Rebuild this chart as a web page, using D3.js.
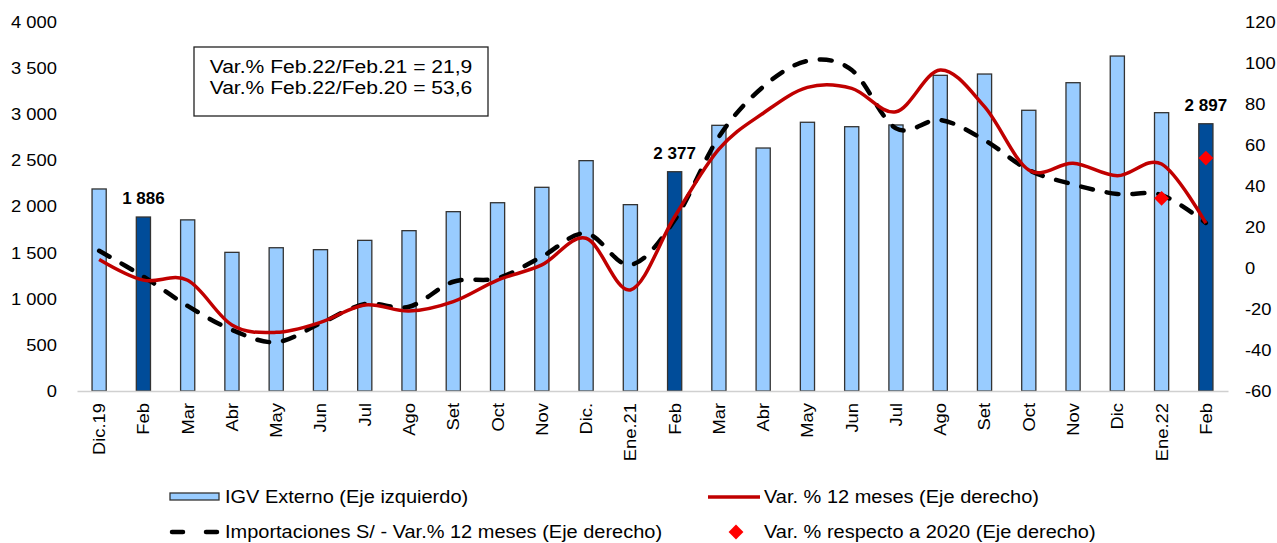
<!DOCTYPE html>
<html>
<head>
<meta charset="utf-8">
<script src="https://cdn.jsdelivr.net/npm/d3@7"></script>
<style>
  body { margin: 0; background: #fff; }
  svg { font-family: "Liberation Sans", Arial, sans-serif; }
</style>
</head>
<body>
<div id="chart"></div>
<script>
const categories = ['Dic.19', 'Feb', 'Mar', 'Abr', 'May', 'Jun', 'Jul', 'Ago', 'Set', 'Oct', 'Nov', 'Dic.',
  'Ene.21', 'Feb', 'Mar', 'Abr', 'May', 'Jun', 'Jul', 'Ago', 'Set', 'Oct', 'Nov', 'Dic', 'Ene.22', 'Feb']
// IGV externo, millones S/ (eje izquierdo)
const igv = [2190, 1886, 1855, 1503, 1553, 1532, 1633, 1738, 1944, 2041, 2208, 2497,
  2020, 2377, 2880, 2634, 2913, 2865, 2884, 3422, 3436, 3043, 3342, 3631, 3017, 2897]
// Var. % 12 meses (eje derecho)
const var12 = [4.2, -5.9, -6, -27.8, -31.4, -26.5, -18, -21, -16.4, -5.9, 1.5, 14.5,
  -10.7, 25, 58, 75.5, 88.1, 87.6, 76.2, 96.6, 78.7, 47.8, 51.1, 45, 50.7, 21.9]
// Importaciones S/ - Var.% 12 meses (eje derecho)
const imports = [8.4, -4.2, -18.5, -30.2, -36.2, -27, -17.6, -18.9, -6.7, -5, 5.5, 16.9,
  1.5, 23.4, 64, 88.4, 101, 96.6, 68.1, 72.2, 62.4, 47.8, 40.8, 36.1, 35.6, 22]
// Var. % respecto a 2020 (eje derecho)
const var2020 = [null, null, null, null, null, null, null, null, null, null, null, null,
  null, null, null, null, null, null, null, null, null, null, null, null, 34, 53.6]
const highlighted = [1, 13, 25]
const leftTicks = [0, 500, 1000, 1500, 2000, 2500, 3000, 3500, 4000]
const rightTicks = [-60, -40, -20, 0, 20, 40, 60, 80, 100, 120]
const boxLines = ['Var.% Feb.22/Feb.21 = 21,9', 'Var.% Feb.22/Feb.20 = 53,6']

const W = 1277, H = 543
const STRETCH = 1.08
const LIGHT = '#99CCFF', DARK = '#004C99', RED = '#C00000'

const locale = d3.formatLocale({ decimal: ',', thousands: ' ', grouping: [3], currency: ['', ''], minus: '-' })
const fmt = locale.format(',')

const svg = d3.select('#chart').append('svg')
  .attr('width', W).attr('height', H)

const idx = d3.range(categories.length)
const x = d3.scaleBand().domain(idx).range([77, 1228]).paddingInner(0.68).paddingOuter(0.34)
const yL = d3.scaleLinear().domain([0, 4000]).range([391, 22])
const yR = d3.scaleLinear().domain([-60, 120]).range([391, 22])
const cx = i => x(i) + x.bandwidth() / 2

// left axis
const gL = svg.append('g').attr('transform', 'translate(57,0)')
  .call(d3.axisLeft(yL).tickValues(leftTicks).tickSize(0).tickPadding(0).tickFormat(fmt))
gL.select('.domain').remove()
gL.selectAll('text').attr('x', 0).attr('font-size', 17).attr('fill', '#000')
  .attr('font-family', null).attr('transform', `scale(${STRETCH},1)`)

// right axis
const gR = svg.append('g').attr('transform', 'translate(1245,0)')
  .call(d3.axisRight(yR).tickValues(rightTicks).tickSize(0).tickPadding(0).tickFormat(fmt))
gR.select('.domain').remove()
gR.selectAll('text').attr('x', 0).attr('font-size', 17).attr('fill', '#000')
  .attr('font-family', null).attr('transform', `scale(${STRETCH},1)`)

// bars
svg.append('g').selectAll('rect').data(igv).join('rect')
  .attr('x', (d, i) => x(i))
  .attr('y', d => yL(d))
  .attr('width', x.bandwidth())
  .attr('height', d => yL(0) - yL(d))
  .attr('fill', (d, i) => highlighted.includes(i) ? DARK : LIGHT)
  .attr('stroke', '#333')
  .attr('stroke-width', 1.3)

// x axis
const gX = svg.append('g').attr('transform', 'translate(0,391)')
  .call(d3.axisBottom(x).tickSize(0).tickFormat(i => categories[i]))
gX.select('.domain').attr('stroke', '#d0d0d0').attr('stroke-width', 1.5)
gX.selectAll('text')
  .attr('x', 0).attr('y', 0).attr('dy', '0.35em')
  .attr('text-anchor', 'end').attr('font-size', 17).attr('fill', '#000').attr('font-family', null)
  .attr('transform', `translate(0,12) rotate(-90) scale(${STRETCH},1)`)

// lines
const smooth = d3.curveCatmullRom.alpha(0)
svg.append('path')
  .attr('d', d3.line().x((d, i) => cx(i)).y(d => yR(d)).curve(smooth)(imports))
  .attr('fill', 'none').attr('stroke', '#000').attr('stroke-width', 4.5)
  .attr('stroke-dasharray', '12,14').attr('stroke-linecap', 'round')
svg.append('path')
  .attr('d', d3.line().x((d, i) => cx(i)).y(d => yR(d)).curve(smooth)(var12))
  .attr('fill', 'none').attr('stroke', RED).attr('stroke-width', 3.5)

// diamonds
const diamond = d3.symbol().type(d3.symbolSquare).size(110)
svg.append('g').selectAll('path')
  .data(var2020.map((v, i) => ({ v, i })).filter(d => d.v !== null))
  .join('path')
  .attr('d', diamond)
  .attr('transform', d => `translate(${cx(d.i)},${yR(d.v)}) rotate(45)`)
  .attr('fill', '#FF0000')

// value labels
svg.append('g').selectAll('text').data(highlighted).join('text')
  .attr('x', i => cx(i))
  .attr('y', i => yL(igv[i]) - 13)
  .attr('text-anchor', 'middle')
  .attr('font-size', 17).attr('font-weight', 'bold')
  .text(i => fmt(igv[i]))

// annotation box
svg.append('rect')
  .attr('x', 194).attr('y', 47).attr('width', 294).attr('height', 69)
  .attr('fill', '#fff').attr('stroke', '#222').attr('stroke-width', 1.3)
boxLines.forEach((t, k) => {
  svg.append('text')
    .attr('transform', `translate(341,${73 + k * 21}) scale(1.11,1)`)
    .attr('text-anchor', 'middle').attr('font-size', 19)
    .text(t)
})

// legend
const lg = svg.append('g').attr('font-size', 18.5)
function legendText (tx, ty, t) {
  lg.append('text').attr('transform', `translate(${tx},${ty}) scale(${STRETCH},1)`)
    .attr('dy', '0.35em').text(t)
}
lg.append('rect').attr('x', 170).attr('y', 493).attr('width', 49).attr('height', 7)
  .attr('fill', LIGHT).attr('stroke', '#333').attr('stroke-width', 1.3)
legendText(225, 497, 'IGV Externo (Eje izquierdo)')
lg.append('line').attr('x1', 708).attr('x2', 760).attr('y1', 497).attr('y2', 497)
  .attr('stroke', RED).attr('stroke-width', 3.5)
legendText(764, 497, 'Var. % 12 meses (Eje derecho)')
lg.append('line').attr('x1', 172).attr('x2', 217).attr('y1', 532).attr('y2', 532)
  .attr('stroke', '#000').attr('stroke-width', 4.5)
  .attr('stroke-dasharray', '11,23').attr('stroke-linecap', 'round')
legendText(225, 532, 'Importaciones S/ - Var.% 12 meses (Eje derecho)')
lg.append('path').attr('d', diamond).attr('transform', 'translate(736,532) rotate(45)')
  .attr('fill', '#FF0000')
legendText(764, 532, 'Var. % respecto a 2020 (Eje derecho)')
</script>
</body>
</html>
